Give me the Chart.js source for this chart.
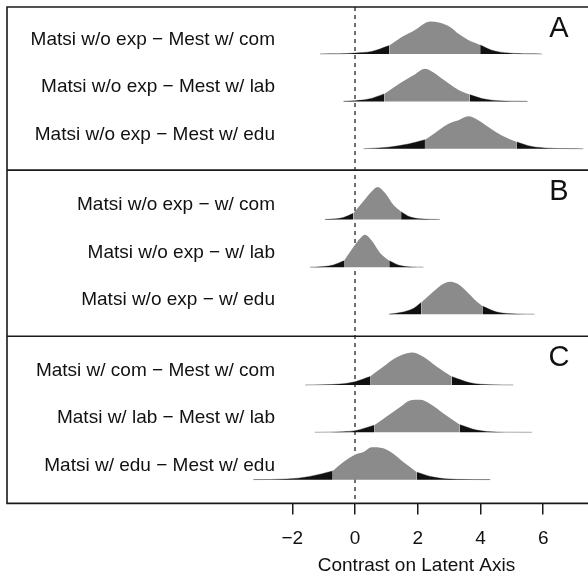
<!DOCTYPE html>
<html>
<head>
<meta charset="utf-8">
<script src="https://cdn.jsdelivr.net/npm/chart.js@4.4.1/dist/chart.umd.min.js"></script>
<style>
  body { margin: 0; background: #fff; }
  canvas { display: block; }
</style>
</head>
<body>
<canvas id="ridgeChart" width="588" height="578"></canvas>
<script>
const rowLabels = [
  "Matsi w/o exp \u2212 Mest w/ com",
  "Matsi w/o exp \u2212 Mest w/ lab",
  "Matsi w/o exp \u2212 Mest w/ edu",
  "Matsi w/o exp \u2212 w/ com",
  "Matsi w/o exp \u2212 w/ lab",
  "Matsi w/o exp \u2212 w/ edu",
  "Matsi w/ com \u2212 Mest w/ com",
  "Matsi w/ lab \u2212 Mest w/ lab",
  "Matsi w/ edu \u2212 Mest w/ edu"
];

const panelLetters = ["A", "B", "C"];

const tickValues = [-2, 0, 2, 4, 6];

// density curves (height relative to each curve's peak)
const xA1 = [-1.12, -0.5, 0.0, 0.53, 1.09, 1.49, 1.91, 2.23, 2.39, 2.71, 3.03, 3.30, 3.61, 3.99, 4.36, 4.89, 5.53, 5.96];
const hA1 = [0.003, 0.006, 0.03, 0.08, 0.26, 0.52, 0.74, 0.95, 1.0, 0.96, 0.83, 0.62, 0.43, 0.28, 0.12, 0.03, 0.006, 0.002];

const xA2 = [-0.37, 0.0, 0.43, 0.93, 1.28, 1.59, 1.91, 2.23, 2.45, 2.77, 3.08, 3.40, 3.65, 4.04, 4.57, 5.0, 5.5];
const hA2 = [0.003, 0.02, 0.07, 0.23, 0.46, 0.65, 0.83, 1.0, 0.92, 0.70, 0.49, 0.30, 0.21, 0.09, 0.02, 0.007, 0.002];

const xA3 = [0.27, 1.06, 1.70, 2.23, 2.55, 2.98, 3.30, 3.61, 3.93, 4.25, 4.68, 5.16, 5.64, 6.17, 6.8, 7.28];
const hA3 = [0.003, 0.05, 0.15, 0.28, 0.49, 0.77, 0.88, 1.0, 0.88, 0.67, 0.41, 0.21, 0.07, 0.02, 0.006, 0.002];

const xB1 = [-0.96, -0.6, -0.37, -0.05, 0.26, 0.53, 0.72, 0.96, 1.22, 1.47, 1.75, 2.07, 2.4, 2.71];
const hB1 = [0.003, 0.02, 0.06, 0.19, 0.55, 0.86, 1.0, 0.81, 0.45, 0.24, 0.08, 0.02, 0.005, 0.002];

const xB2 = [-1.44, -1.0, -0.69, -0.35, -0.05, 0.16, 0.32, 0.53, 0.80, 1.09, 1.44, 1.8, 2.18];
const hB2 = [0.002, 0.02, 0.07, 0.20, 0.62, 0.88, 1.0, 0.82, 0.44, 0.20, 0.05, 0.01, 0.002];

const xB3 = [1.08, 1.44, 1.86, 2.11, 2.50, 2.82, 3.03, 3.24, 3.56, 3.88, 4.06, 4.52, 5.16, 5.72];
const hB3 = [0.003, 0.05, 0.18, 0.36, 0.70, 0.94, 1.0, 0.95, 0.70, 0.39, 0.25, 0.07, 0.01, 0.002];

const xC1 = [-1.59, -1.0, -0.48, 0.0, 0.48, 0.90, 1.33, 1.81, 2.18, 2.61, 3.08, 3.67, 4.31, 5.05];
const hC1 = [0.002, 0.01, 0.03, 0.10, 0.26, 0.56, 0.85, 1.0, 0.87, 0.56, 0.26, 0.07, 0.01, 0.002];

const xC2 = [-1.28, -0.37, 0.0, 0.61, 1.01, 1.44, 1.75, 2.07, 2.39, 2.82, 3.33, 3.88, 4.52, 5.1, 5.64];
const hC2 = [0.002, 0.02, 0.05, 0.22, 0.49, 0.78, 0.98, 1.0, 0.88, 0.58, 0.24, 0.07, 0.01, 0.004, 0.002];

const xC3 = [-3.24, -2.18, -1.44, -0.71, -0.37, 0.0, 0.27, 0.53, 0.90, 1.22, 1.54, 1.97, 2.50, 3.24, 4.31];
const hC3 = [0.002, 0.02, 0.10, 0.27, 0.54, 0.77, 0.85, 1.0, 0.97, 0.80, 0.54, 0.23, 0.08, 0.01, 0.002];

// shaded interval of each curve
const lowerBounds = [1.09, 0.93, 2.23, -0.05, -0.35, 2.11, 0.48, 0.61, -0.71];
const upperBounds = [3.99, 3.65, 5.16, 1.47, 1.09, 4.06, 3.08, 3.33, 1.97];

const curveX = [xA1, xA2, xA3, xB1, xB2, xB3, xC1, xC2, xC3];
const curveH = [hA1, hA2, hA3, hB1, hB2, hB3, hC1, hC2, hC3];

// layout (y units are pixels inside the frame, measured from its top)
const rowBase = [47, 94.3, 141.7, 212.3, 260, 307, 377.7, 425, 472.3];
const panelTops = [0, 163, 329];
const frameBottom = 496;
const peakHeight = 32.5;
const xMin = -3.507;
const xMax = 7.428;

const fontFamily = '"Liberation Sans", Arial, Helvetica, sans-serif';
Chart.defaults.font.family = fontFamily;

const datasets = [];

curveX.forEach((xs, i) => {

  const base = rowBase[i];

  const pts = xs.map((v, k) => ({ x: v, y: base - curveH[i][k] * peakHeight }));

  const lo = lowerBounds[i];
  const hi = upperBounds[i];

  const common = {
    pointRadius: 0,
    cubicInterpolationMode: "monotone",
    fill: { value: base }
  };

  datasets.push({
    ...common,
    data: pts.filter(p => p.x >= lo && p.x <= hi),
    backgroundColor: "#8b8b8b",
    borderWidth: 0
  });

  datasets.push({
    ...common,
    data: pts.filter(p => p.x <= lo),
    backgroundColor: "#111111",
    borderColor: "rgba(17,17,17,0.45)",
    borderWidth: 0.8
  });

  datasets.push({
    ...common,
    data: pts.filter(p => p.x >= hi),
    backgroundColor: "#111111",
    borderColor: "rgba(17,17,17,0.45)",
    borderWidth: 0.8
  });

});

// dashed zero line, last so it sits behind the curves
datasets.push({
  data: [{ x: 0, y: 0 }, { x: 0, y: frameBottom }],
  borderColor: "#111",
  borderWidth: 1.2,
  borderDash: [4, 4],
  pointRadius: 0,
  fill: false
});

const framePlugin = {
  id: "frame",
  afterDatasetsDraw(chart) {

    const { ctx } = chart;
    const x = chart.scales.x;
    const y = chart.scales.y;

    const left = 7;
    const right = chart.width;
    const top = y.getPixelForValue(0);
    const bottom = y.getPixelForValue(frameBottom);

    ctx.save();

    ctx.strokeStyle = "#1a1a1a";
    ctx.lineWidth = 1.6;
    ctx.beginPath();
    ctx.moveTo(right, top);
    ctx.lineTo(left, top);
    ctx.lineTo(left, bottom);
    ctx.lineTo(right, bottom);
    panelTops.slice(1).forEach(v => {
      const py = y.getPixelForValue(v);
      ctx.moveTo(left, py);
      ctx.lineTo(right, py);
    });
    ctx.stroke();

    ctx.fillStyle = "#111";
    ctx.font = "19px " + fontFamily;
    ctx.textAlign = "right";
    ctx.textBaseline = "alphabetic";
    rowLabels.forEach((t, i) => {
      ctx.fillText(t, 275, y.getPixelForValue(rowBase[i] - 9));
    });

    ctx.font = "29px " + fontFamily;
    ctx.textAlign = "center";
    ctx.textBaseline = "middle";
    panelLetters.forEach((t, i) => {
      ctx.fillText(t, x.getPixelForValue(6.5), y.getPixelForValue(panelTops[i] + 22));
    });

    ctx.restore();
  }
};

new Chart(document.getElementById("ridgeChart"), {

  type: "line",

  data: { datasets: datasets },

  options: {

    responsive: false,
    animation: false,

    layout: {
      padding: { left: 245, top: 7, right: 0, bottom: 1 }
    },

    plugins: {
      legend: { display: false },
      tooltip: { enabled: false }
    },

    scales: {

      x: {
        type: "linear",
        min: xMin,
        max: xMax,
        afterBuildTicks: scale => {
          scale.ticks = tickValues.map(v => ({ value: v }));
        },
        ticks: {
          color: "#111",
          font: { size: 19 },
          padding: 13,
          maxRotation: 0,
          callback: v => String(v).replace("-", "\u2212")
        },
        grid: {
          drawOnChartArea: false,
          drawTicks: true,
          tickLength: 11,
          color: "#1a1a1a",
          lineWidth: 1.5
        },
        border: { display: false },
        title: {
          display: true,
          text: "Contrast on Latent Axis",
          color: "#111",
          font: { size: 19 },
          padding: { top: -9, bottom: 0 }
        }
      },

      y: {
        type: "linear",
        display: false,
        reverse: true,
        min: 0,
        max: frameBottom
      }

    }

  },

  plugins: [framePlugin]

});
</script>
</body>
</html>
